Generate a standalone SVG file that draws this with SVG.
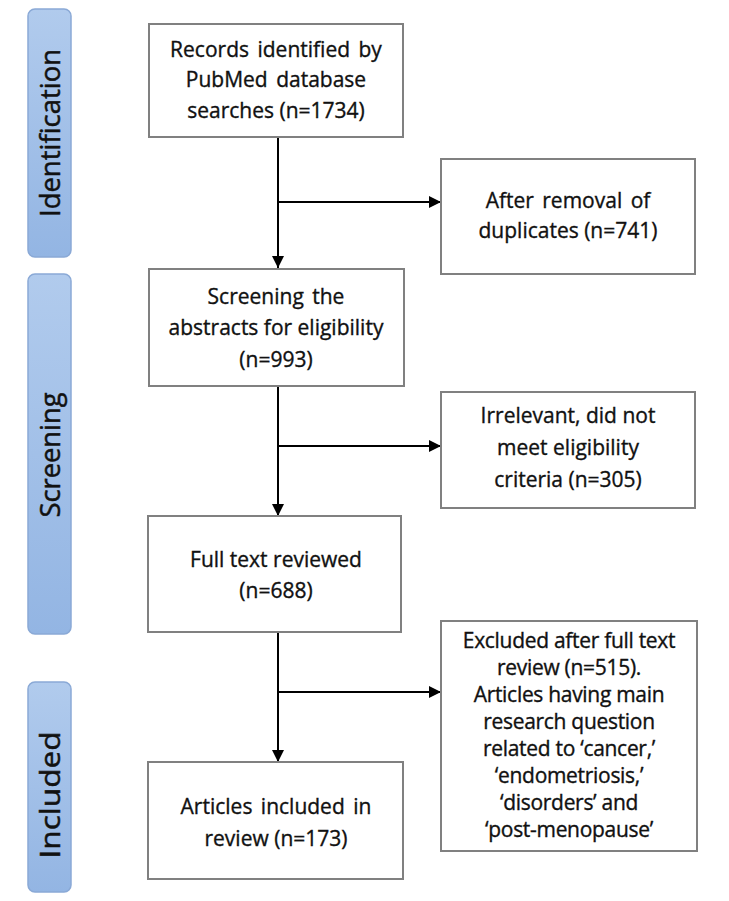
<svg xmlns="http://www.w3.org/2000/svg" width="729" height="901" viewBox="0 0 729 901">
<defs>
<linearGradient id="barGrad" x1="0" y1="0" x2="0" y2="1">
<stop offset="0" stop-color="#b1cbed"/>
<stop offset="1" stop-color="#93b5e3"/>
</linearGradient>
<marker id="arr" markerUnits="userSpaceOnUse" markerWidth="13" markerHeight="13" refX="12" refY="6" orient="auto">
<path d="M0,0 L12,6 L0,12 z" fill="#000"/>
</marker>
</defs>
<style>
.bar{fill:url(#barGrad);stroke:#8aa9d6;stroke-width:1.5}
.lab{font-family:"Open Sans","Liberation Sans",sans-serif;font-size:27px;fill:#111;stroke:#111;stroke-width:0.5;text-anchor:middle;dominant-baseline:central}
.box{fill:#fff;stroke:#808080;stroke-width:2}
.t{font-family:"Open Sans","Liberation Sans",sans-serif;font-size:21px;fill:#111;stroke:#111;stroke-width:0.35;text-anchor:middle}
.ws{word-spacing:3px}
.ex{font-family:"Open Sans","Liberation Sans",sans-serif;font-size:21px;fill:#111;stroke:#111;stroke-width:0.35;text-anchor:middle;letter-spacing:-0.3px}
.con{fill:none;stroke:#000;stroke-width:2}
</style>
<rect width="729" height="901" fill="#fff"/>
<g id="stage-identification">
<rect class="bar" x="28" y="9" width="43" height="248" rx="7"/>
<text class="lab" transform="translate(49.5,133) rotate(-90)" textLength="168" lengthAdjust="spacingAndGlyphs">Identification</text>
</g>
<g id="stage-screening">
<rect class="bar" x="28" y="274" width="43" height="360" rx="7"/>
<text class="lab" transform="translate(49.5,455) rotate(-90)" textLength="125" lengthAdjust="spacingAndGlyphs">Screening</text>
</g>
<g id="stage-included">
<rect class="bar" x="28" y="682" width="43" height="210" rx="7"/>
<text class="lab" transform="translate(49.5,795) rotate(-90)" textLength="127" lengthAdjust="spacingAndGlyphs">Included</text>
</g>
<g id="connectors">
<path class="con" d="M278,137 V268" marker-end="url(#arr)"/>
<path class="con" d="M278,202 H441" marker-end="url(#arr)"/>
<path class="con" d="M278,386 V516" marker-end="url(#arr)"/>
<path class="con" d="M278,446 H441" marker-end="url(#arr)"/>
<path class="con" d="M278,632 V762" marker-end="url(#arr)"/>
<path class="con" d="M278,692 H441" marker-end="url(#arr)"/>
</g>
<g id="records">
<rect class="box" x="149" y="24" width="254" height="113"/>
<text class="t ws" x="276" y="57">Records identified by</text>
<text class="t ws" x="276" y="87">PubMed database</text>
<text class="t" x="276" y="118">searches (n=1734)</text>
</g>
<g id="duplicates">
<rect class="box" x="441" y="159" width="254" height="115"/>
<text class="t ws" x="568" y="208">After removal of</text>
<text class="t" x="568" y="238">duplicates (n=741)</text>
</g>
<g id="screening-abstracts">
<rect class="box" x="149" y="269" width="255" height="117"/>
<text class="t ws" x="276" y="304">Screening the</text>
<text class="t" x="276" y="335">abstracts for eligibility</text>
<text class="t" x="276" y="367">(n=993)</text>
</g>
<g id="irrelevant">
<rect class="box" x="441" y="392" width="254" height="116"/>
<text class="t" x="568" y="423">Irrelevant, did not</text>
<text class="t" x="568" y="455">meet eligibility</text>
<text class="t" x="568" y="487">criteria (n=305)</text>
</g>
<g id="full-text">
<rect class="box" x="148" y="516" width="253" height="116"/>
<text class="t" x="276" y="567">Full text reviewed</text>
<text class="t" x="276" y="598">(n=688)</text>
</g>
<g id="excluded">
<rect class="box" x="441" y="621" width="256" height="230"/>
<text class="ex" x="569" y="648">Excluded after full text</text>
<text class="ex" x="569" y="675">review (n=515).</text>
<text class="ex" x="569" y="702">Articles having main</text>
<text class="ex" x="569" y="729">research question</text>
<text class="ex" x="569" y="756">related to ‘cancer,’</text>
<text class="ex" x="569" y="783">‘endometriosis,’</text>
<text class="ex" x="569" y="810">‘disorders’ and</text>
<text class="ex" x="569" y="837">‘post-menopause’</text>
</g>
<g id="included-articles">
<rect class="box" x="148" y="762" width="255" height="117"/>
<text class="t ws" x="276" y="814">Articles included in</text>
<text class="t" x="276" y="846">review (n=173)</text>
</g>
</svg>
